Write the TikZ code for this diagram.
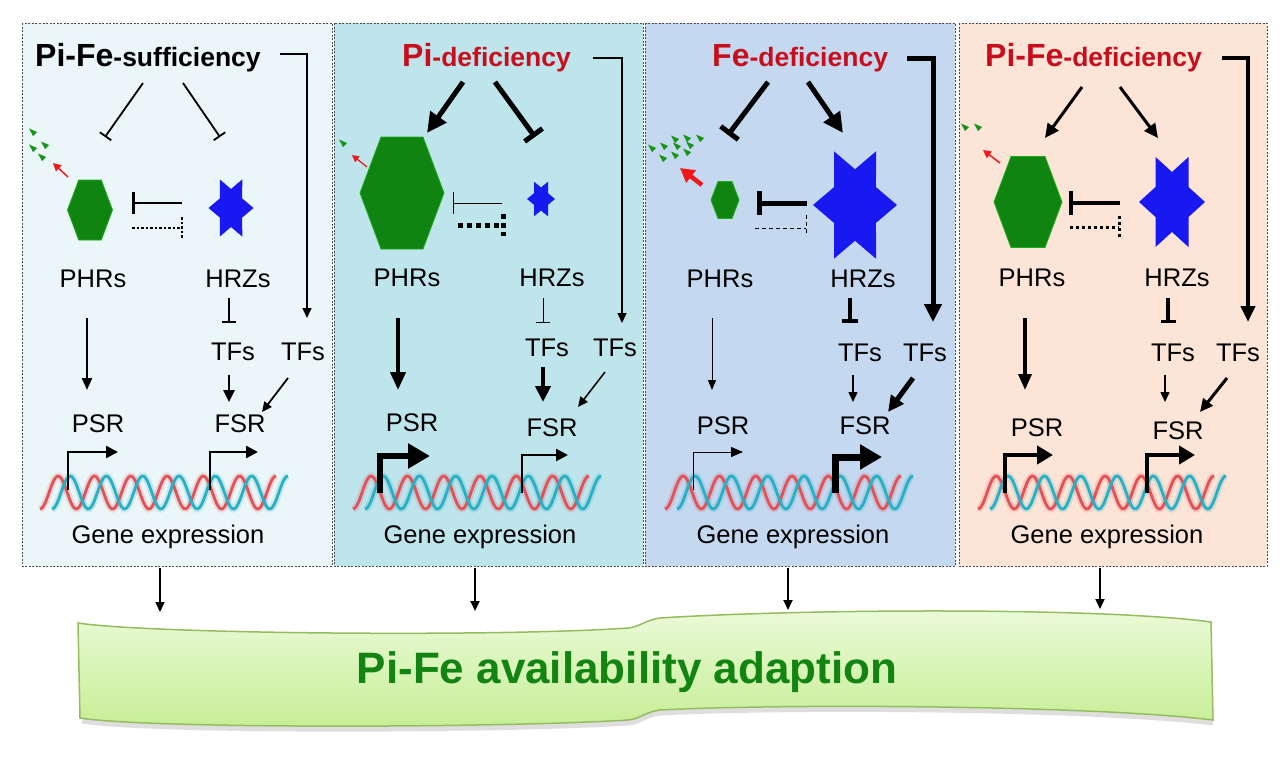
\documentclass[tikz,border=0pt]{standalone}
\usepackage{fontspec}
\setmainfont{Liberation Sans}
\usetikzlibrary{arrows.meta}
\definecolor{pone}{RGB}{234,246,248}
\definecolor{ptwo}{RGB}{190,228,236}
\definecolor{pthree}{RGB}{196,216,240}
\definecolor{pfour}{RGB}{252,228,214}
\definecolor{ttlred}{RGB}{200,14,28}
\definecolor{hexgreen}{RGB}{16,132,16}
\definecolor{hexedge}{RGB}{30,170,30}
\definecolor{starblue}{RGB}{24,24,240}
\definecolor{leafgreen}{RGB}{20,150,20}
\definecolor{degred}{RGB}{240,24,24}
\definecolor{helixred}{RGB}{224,82,88}
\definecolor{helixcyan}{RGB}{40,175,196}
\definecolor{bantop}{RGB}{236,250,218}
\definecolor{banbot}{RGB}{198,238,148}
\definecolor{banedge}{RGB}{150,188,96}
\definecolor{bantext}{RGB}{18,132,18}
\newcommand\labfont{\fontsize{25.5}{30}\selectfont}
\newcommand\ttlbig{\fontsize{32}{36}\selectfont\bfseries}
\newcommand\ttlsmall{\fontsize{26.5}{30}\selectfont\bfseries}
\newcommand\hexa[4]{\fill[hexgreen,draw=hexedge,line width=0.8pt] (#1-#3,#2) -- (#1-#3/2,#2-#4) -- (#1+#3/2,#2-#4) -- (#1+#3,#2) -- (#1+#3/2,#2+#4) -- (#1-#3/2,#2+#4) -- cycle;}
\newcommand\hstar[4]{\fill[starblue] (#1+#3,#2) \foreach \a/\r in {30/0.577,60/1,90/0.577,120/1,150/0.577,180/1,210/0.577,240/1,270/0.577,300/1,330/0.577} { -- ({#1+\r*#3*cos(\a)},{#2+\r*#4*sin(\a)}) } -- cycle;}
\newcommand\leaf[2]{\fill[leafgreen] (#1-4,#2-3.5) -- (#1+4,#2) -- (#1,#2+4) -- cycle;}
\newcommand\helix[1]{%
  \draw[line width=7pt, helixred, opacity=0.18] plot[domain=0:236, samples=140, smooth] ({#1+\x},{492.5+16.5*cos(\x/36.3*360)});
  \draw[line width=7pt, helixcyan, opacity=0.18] plot[domain=0:236, samples=140, smooth] ({#1+12+\x},{492.5+16.5*cos(\x/36.3*360)});
  \draw[line width=2.8pt, helixred] plot[domain=0:236, samples=140, smooth] ({#1+\x},{492.5+16.5*cos(\x/36.3*360)});
  \draw[line width=2.8pt, helixcyan] plot[domain=0:236, samples=140, smooth] ({#1+12+\x},{492.5+16.5*cos(\x/36.3*360)});}
\tikzset{
  ar/.style 2 args={-{Triangle[length=#1,width=#2]}},
  inh/.style={-{Bar[width=#1]}},
  panel/.style={draw=black!70, line width=0.9pt, dash pattern=on 2pt off 1.5pt},
  lab/.style={anchor=base, inner sep=0pt, font=\labfont},
  ttl/.style={anchor=base west, inner sep=0pt},
}
\begin{document}
\begin{tikzpicture}[x=1pt,y=-1pt, line cap=butt]
\useasboundingbox (0,0) rectangle (1280,763);
\fill[white] (0,0) rectangle (1280,763);

% ---------- panel backgrounds ----------
\draw[panel, fill=pone] (22,23) rectangle (332,566);
\draw[panel, fill=ptwo] (334,23) rectangle (643,566);
\draw[panel, fill=pthree] (645,23) rectangle (955,566);
\draw[panel, fill=pfour] (959,23) rectangle (1267,566);

% ================= PANEL 1 =================
\node[ttl] (t1) at (35,66) {\ttlbig Pi-Fe\ttlsmall -sufficiency};
\coordinate (b1) at (280,54);
\node[lab] (phr1) at (93,287) {PHRs};
\node[lab] (hrz1) at (238,287) {HRZs};
\node[lab] (tfl1) at (233,360) {TFs};
\node[lab] (tfr1) at (303,360) {TFs};
\node[lab] (psr1) at (98,432) {PSR};
\node[lab] (fsr1) at (240,432) {FSR};
\node[lab] (ge1) at (168,543) {Gene expression};
\draw[line width=1.5pt, ar={10pt}{9pt}] (b1) -| (307,318);
\draw[line width=1.8pt, inh=14pt] (143,83) -- (105,137);
\draw[line width=1.8pt, inh=14pt] (183,83) -- (220,137);
\leaf{33}{132}\leaf{45}{145}\leaf{33}{148}\leaf{42}{157}
\draw[degred, line width=1.5pt, ar={8pt}{8pt}] (68,177) -- (53,163);
\hexa{90}{210}{22.5}{30}
\hstar{231}{208}{22.5}{33}
\draw[line width=2.5pt, inh=22pt] (182,203) -- (132,203);
\draw[line width=2.5pt, dash pattern=on 2.5pt off 2pt] (132,228) -- (182,228);
\draw[line width=2.5pt, dash pattern=on 2.5pt off 2pt] (182,217) -- (182,239);
\draw[line width=2pt, inh=14pt] (229,298) -- (229,323);
\draw[line width=2.5pt, ar={12pt}{11pt}] (229,375) -- (229,402);
\draw[line width=1.8pt, ar={10pt}{9pt}] (288,378) -- (262,412);
\draw[line width=2.2pt, ar={12pt}{10pt}] (87,318) -- (87,390);
\helix{40}
\draw[line width=2.5pt, ar={12pt}{12pt}] (68,490) |- (118,452);
\draw[line width=2.5pt, ar={12pt}{12pt}] (210,490) |- (258,452);

% ================= PANEL 2 =================
\node[ttl, text=ttlred] (t2) at (402,66) {\ttlbig Pi\ttlsmall -deficiency};
\coordinate (b2) at (593,58);
\node[lab] (phr2) at (407,286) {PHRs};
\node[lab] (hrz2) at (552,286) {HRZs};
\node[lab] (tfl2) at (547,356) {TFs};
\node[lab] (tfr2) at (615,356) {TFs};
\node[lab] (psr2) at (412,431) {PSR};
\node[lab] (fsr2) at (552,436) {FSR};
\node[lab] (ge2) at (480,543) {Gene expression};
\draw[line width=1.5pt, ar={10pt}{9pt}] (b2) -| (622,323);
\draw[line width=5pt, ar={20pt}{19pt}] (463,82) -- (427,133);
\draw[line width=5pt, inh=22pt] (495,82) -- (535,137);
\leaf{343}{143}
\draw[degred, line width=1.2pt, ar={7pt}{7pt}] (367,167) -- (352,155);
\hexa{402}{193}{42}{56}
\hstar{541}{199}{14}{20}
\draw[line width=1pt, inh=22pt] (502,203) -- (453,203);
\draw[line width=5pt, dash pattern=on 5pt off 4pt] (458,225) -- (503,225);
\draw[line width=5pt, dash pattern=on 5pt off 4pt] (503,214) -- (503,236);
\draw[line width=1pt, inh=14pt] (543,298) -- (543,323);
\draw[line width=4pt, ar={16pt}{15pt}] (543,367) -- (543,402);
\draw[line width=1.5pt, ar={10pt}{9pt}] (605,372) -- (578,407);
\draw[line width=4pt, ar={18pt}{15pt}] (398,318) -- (398,390);
\helix{353}
\draw[line width=6pt, ar={22pt}{24pt}] (380,493) |- (430,456);
\draw[line width=2.5pt, ar={12pt}{12pt}] (522,493) |- (568,455);

% ================= PANEL 3 =================
\node[ttl, text=ttlred] (t3) at (712,66) {\ttlbig Fe\ttlsmall -deficiency};
\coordinate (b3) at (907,58);
\node[lab] (phr3) at (720,287) {PHRs};
\node[lab] (hrz3) at (863,287) {HRZs};
\node[lab] (tfl3) at (860,361) {TFs};
\node[lab] (tfr3) at (925,361) {TFs};
\node[lab] (psr3) at (723,434) {PSR};
\node[lab] (fsr3) at (865,434) {FSR};
\node[lab] (ge3) at (793,543) {Gene expression};
\draw[line width=5pt, ar={18pt}{17pt}] (b3) -| (933,322);
\draw[line width=5pt, inh=22pt] (768,82) -- (728,135);
\draw[line width=5pt, ar={20pt}{19pt}] (808,82) -- (843,133);
\foreach \lx/\ly in {675/139,687/138,700/138,652/148,664/146,677/146,690/145,663/158,675/155,687/152}{\leaf{\lx}{\ly}}
\draw[degred, line width=4.5pt, ar={14pt}{15pt}] (702,185) -- (680,168);
\hexa{725}{200}{14}{18.5}
\hstar{855}{205}{42}{62}
\draw[line width=5pt, inh=24pt] (807,203) -- (757,203);
\draw[line width=1pt, dash pattern=on 4pt off 3pt] (755,228) -- (806,228);
\draw[line width=1pt, dash pattern=on 4pt off 3pt] (806,215) -- (806,236);
\draw[line width=4.5pt, inh=16pt] (850,298) -- (850,323);
\draw[line width=1.5pt, ar={10pt}{9pt}] (853,375) -- (853,402);
\draw[line width=5pt, ar={16pt}{15pt}] (913,378) -- (888,412);
\draw[line width=1pt, ar={10pt}{8pt}] (712,318) -- (712,390);
\helix{665}
\draw[line width=1pt, ar={12pt}{10pt}] (693,490) |- (743,452);
\draw[line width=7pt, ar={22pt}{24pt}] (835,493) |- (882,457);

% ================= PANEL 4 =================
\node[ttl, text=ttlred] (t4) at (985,66) {\ttlbig Pi-Fe\ttlsmall -deficiency};
\coordinate (b4) at (1222,58);
\node[lab] (phr4) at (1032,286) {PHRs};
\node[lab] (hrz4) at (1177,286) {HRZs};
\node[lab] (tfl4) at (1173,361) {TFs};
\node[lab] (tfr4) at (1238,361) {TFs};
\node[lab] (psr4) at (1037,436) {PSR};
\node[lab] (fsr4) at (1178,439) {FSR};
\node[lab] (ge4) at (1107,543) {Gene expression};
\draw[line width=4pt, ar={16pt}{14pt}] (b4) -| (1248,322);
\draw[line width=3pt, ar={14pt}{13pt}] (1082,87) -- (1045,138);
\draw[line width=3pt, ar={14pt}{13pt}] (1120,87) -- (1158,138);
\leaf{965}{127}\leaf{978}{127}
\draw[degred, line width=1.5pt, ar={8pt}{8pt}] (1000,163) -- (983,150);
\hexa{1028}{202}{34}{45.5}
\hstar{1172}{202}{33}{52}
\draw[line width=4pt, inh=24pt] (1120,203) -- (1069,203);
\draw[line width=3pt, dash pattern=on 3pt off 3pt] (1070,227) -- (1119,227);
\draw[line width=3pt, dash pattern=on 3pt off 3pt] (1119,216) -- (1119,238);
\draw[line width=3.5pt, inh=15pt] (1168,298) -- (1168,323);
\draw[line width=1.5pt, ar={10pt}{9pt}] (1165,375) -- (1165,402);
\draw[line width=3pt, ar={13pt}{12pt}] (1227,378) -- (1200,412);
\draw[line width=3.5pt, ar={16pt}{13pt}] (1025,318) -- (1025,390);
\helix{978}
\draw[line width=4.5pt, ar={16pt}{18pt}] (1005,493) |- (1053,455);
\draw[line width=4.5pt, ar={16pt}{18pt}] (1147,493) |- (1195,455);

% ================= banner =================
\coordinate (d1) at (160,568); \coordinate (e1) at (160,612);
\coordinate (d2) at (475,568); \coordinate (e2) at (475,611);
\coordinate (d3) at (788,568); \coordinate (e3) at (788,610);
\coordinate (d4) at (1100,568); \coordinate (e4) at (1100,609);
\foreach \i in {1,2,3,4}{\draw[line width=1.8pt, ar={10pt}{9pt}] (d\i) -- (e\i);}
\draw[black!25, line width=5pt, opacity=0.5] (1213,723) .. controls (1100,709) and (800,706) .. (660,713) .. controls (645,715) and (640,722) .. (628,723) .. controls (500,731) and (150,732) .. (82,721);
\shade[top color=bantop, bottom color=banbot, draw=banedge, line width=1.5pt]
  (78,623) .. controls (150,634) and (500,637) .. (628,628)
  .. controls (640,627) and (645,620) .. (660,618)
  .. controls (800,609) and (1100,607) .. (1211,622)
  -- (1213,720)
  .. controls (1100,706) and (800,703) .. (660,710)
  .. controls (645,712) and (640,719) .. (628,720)
  .. controls (500,728) and (150,729) .. (80,718) -- cycle;
\node[anchor=base, inner sep=0pt, text=bantext, font=\fontsize{44}{50}\selectfont\bfseries] (ban) at (627,683) {Pi-Fe availability adaption};
\end{tikzpicture}
\end{document}
